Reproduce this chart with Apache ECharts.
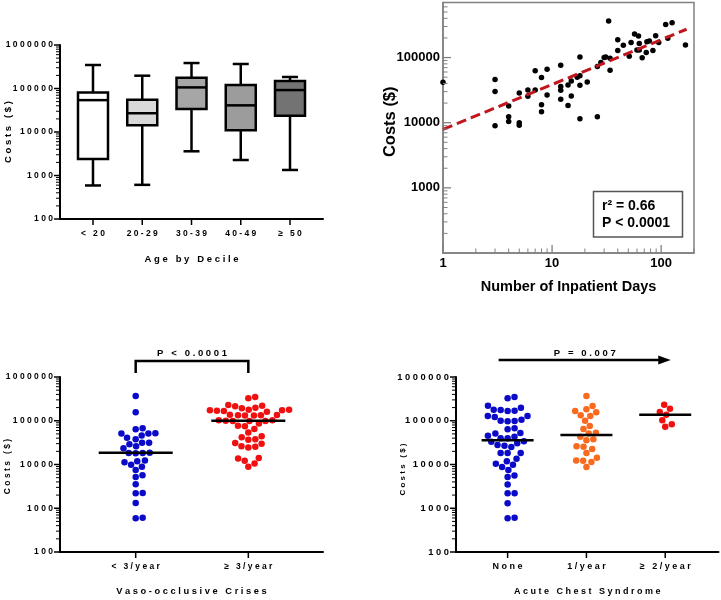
<!DOCTYPE html>
<html>
<head>
<meta charset="utf-8">
<script src="https://cdn.jsdelivr.net/npm/echarts@6/dist/echarts.min.js"></script>
<style>
  html, body { margin: 0; padding: 0; background: #fff; }
  #chart { width: 721px; height: 600px; }
</style>
</head>
<body>
<div id="chart"></div>
<script>
// top left: costs by age decile (box and whiskers)
const ageGroups = ['< 20', '20-29', '30-39', '40-49', '≥ 50'];
const boxMin = [590, 610, 3600, 2270, 1340];
const boxQ1 = [2400, 14300, 34000, 11000, 23700];
const boxMedian = [54000, 27000, 106000, 41000, 92000];
const boxQ3 = [81000, 55000, 177000, 120000, 148000];
const boxMax = [347000, 197000, 385000, 366000, 184000];
const costTicks = [100, 1000, 10000, 100000, 1000000];

// top right: costs vs number of inpatient days
const inpatientDays = [1, 3, 3, 3, 4, 4, 4, 5, 5, 5, 6, 6, 7, 7, 8, 8, 8, 9, 9, 12, 12, 12, 12, 14, 14, 15, 15,
  17, 18, 18, 18, 18, 21, 26, 26, 28, 30, 31, 33, 34, 34, 40, 40, 45, 51, 53, 57, 60, 62, 63, 67, 63,
  73, 74, 78, 84, 89, 95, 110, 115, 126, 167];
const inpatientCosts = [41600, 46000, 30000, 9000, 18000, 12300, 10400, 10000, 9100, 28600, 31800, 25500,
  63000, 31800, 49500, 18800, 14700, 66000, 26700, 76000, 36000, 31400, 23000, 38000, 18400, 43600, 25800,
  50000, 102000, 37500, 11500, 52500, 42000, 12300, 73000, 84000, 100000, 102000, 365000, 98000, 64000,
  188000, 128000, 154000, 105000, 171000, 229000, 131000, 214000, 165000, 99000, 131000,
  120000, 175000, 180000, 128000, 216000, 171000, 322000, 197000, 341000, 156000];
const fitDays = [1, 171];
const fitCosts = [7900, 272000];
const dayTicks = [1, 10, 100];
const scatterCostTicks = [1000, 10000, 100000];

// bottom left: vaso-occlusive crises
const vocGroups = ['< 3/year', '≥ 3/year'];
const vocLow = [368000, 156000, 64000, 67000, 51000, 46000, 51000, 52000, 38000, 41000, 31500, 29000, 31500,
  23400, 26000, 18300, 18000, 18300, 18600, 11800, 12400, 9900, 11200, 8900, 7500, 5650, 5180, 3520, 2190,
  2230, 1320, 590, 610];
const vocHigh = [349000, 325000, 221000, 199000, 179000, 173000, 167000, 161000, 170000, 173000, 179000,
  192000, 214000, 229000, 138000, 133000, 131000, 131000, 133000, 135000, 98600, 102000, 98600, 100000,
  102000, 98600, 77000, 74500, 86000, 65000, 54000, 44000, 41800, 37600, 37000, 31000, 26300, 24500, 25600,
  30000, 14100, 13800, 12200, 10500, 8900];
const vocMedians = [18600, 100000];

// bottom right: acute chest syndrome
const acsGroups = ['None', '1/year', '≥ 2/year'];
const acsNone = [325000, 349000, 221000, 199000, 179000, 170000, 167000, 176000, 128000, 122000, 128000,
  100000, 97000, 98700, 106000, 67000, 64000, 51000, 52500, 43000, 45600, 40000, 40000, 34000, 30500, 33000,
  27000, 25000, 28000, 18300, 18300, 18300, 13600, 11800, 10400, 9900, 8800, 7500, 5600, 5200, 3500, 2200,
  2200, 1300, 590, 610];
const acsOne = [368000, 182000, 217000, 156000, 167000, 128000, 133000, 100000, 76000, 65000, 51000, 53000,
  43000, 37600, 36000, 26000, 25600, 22600, 18300, 14300, 12400, 12200, 11400, 8800];
const acsTwo = [233000, 189000, 158000, 138000, 102000, 83000, 73000];
const acsMedians = [35600, 47000, 138000];

const FONT = 'Liberation Sans, Arial, Helvetica, sans-serif';
const boxFills = ['#ffffff', '#d9d9d9', '#a6a6a6', '#9c9c9c', '#737373'];
const BLUE = '#0a0ac8', RED = '#f01010', ORANGE = '#fa6a1e';
const gray = '#808080';

// x extents of the group axes (the category centres sit at 1, 2, 3 ...)
const ageRange = [0.33, 5.67], vocRange = [0.328, 2.663], acsRange = [0.345, 3.676];
const dayRange = [1, 200], costRange = [100, 1000000], scatterCostRange = [100, 700000];

const spaced = s => String(s).split('').join(' ');
const bold = (size, extra) => Object.assign({ fontFamily: FONT, fontWeight: 'bold', fontSize: size, color: '#000' }, extra);
const plain = v => String(Math.round(v));
const catTicks = n => Array.from({ length: n }, (_, i) => i + 1);

function minorLogTicks(lo, hi) {
  const out = [];
  for (let d = lo; d < hi; d *= 10) {
    for (let m = 2; m <= 9; m++) if (m * d <= hi) out.push(m * d);
  }
  return out;
}

function costAxis(grid, labelSize) {
  return {
    type: 'log', logBase: 10, gridIndex: grid, position: 'left', min: costRange[0], max: costRange[1],
    axisLine: { show: true, onZero: false, lineStyle: { color: '#000', width: 2 } },
    axisTick: { show: false },
    axisLabel: Object.assign({ customValues: costTicks, margin: 7, formatter: v => spaced(Math.round(v)) }, bold(labelSize)),
    splitLine: { show: false }
  };
}

function groupAxis(grid, labels, range, labelSize, title, titleSize) {
  return {
    type: 'value', gridIndex: grid, position: 'bottom', min: range[0], max: range[1],
    name: spaced(title), nameLocation: 'middle', nameGap: 35, nameTextStyle: bold(titleSize),
    axisLine: { show: true, onZero: false, lineStyle: { color: '#000', width: 2 } },
    axisTick: { show: false },
    axisLabel: Object.assign({ customValues: catTicks(labels.length), margin: 10,
      formatter: v => spaced(labels[Math.round(v) - 1]) }, bold(labelSize)),
    splitLine: { show: false }
  };
}

function medianSeries(xi, yi, medians, half) {
  return {
    type: 'custom', xAxisIndex: xi, yAxisIndex: yi, z: 5, silent: true,
    data: medians.map((m, i) => [i + 1, m]),
    renderItem: (params, api) => {
      const p = api.coord([api.value(0), api.value(1)]);
      return { type: 'line', shape: { x1: p[0] - half, y1: p[1], x2: p[0] + half, y2: p[1] },
        style: { stroke: '#000', lineWidth: 2.5 } };
    }
  };
}

function dots(xi, yi, color) {
  return { type: 'scatter', xAxisIndex: xi, yAxisIndex: yi, symbolSize: 6.5, z: 3,
    itemStyle: { color: color, opacity: 1 }, data: [] };
}

// rotated y axis title, placed left of a grid
function yTitle(text, x, y, size) {
  return { type: 'text', x: x, y: y, rotation: Math.PI / 2, silent: true,
    style: { text: text, font: 'bold ' + size + 'px ' + FONT, fill: '#000', align: 'center', verticalAlign: 'middle' } };
}

const chart = echarts.init(document.getElementById('chart'), null, { renderer: 'canvas' });

const fixedGrid = g => Object.assign({ containLabel: false, outerBoundsMode: 'none' }, g);
const grids = [
  fixedGrid({ left: 60, top: 45, width: 263, height: 174 }),
  fixedGrid({ left: 443, top: 2.5, width: 251, height: 250.5, show: true, borderColor: gray, borderWidth: 1.5 }),
  fixedGrid({ left: 60, top: 377, width: 263, height: 175 }),
  fixedGrid({ left: 456, top: 377, width: 262.5, height: 175 })
];
const midY = g => g.top + g.height / 2;

const option = {
  backgroundColor: '#fff',
  animation: false,
  grid: grids,
  xAxis: [
    groupAxis(0, ageGroups, ageRange, 8.5, 'Age by Decile', 9.5),
    {
      type: 'log', logBase: 10, gridIndex: 1, position: 'bottom', min: dayRange[0], max: dayRange[1],
      name: 'Number of Inpatient Days', nameLocation: 'middle', nameGap: 26, nameTextStyle: bold(14.5),
      axisLine: { show: true, onZero: false, lineStyle: { color: gray, width: 1.5 } },
      axisTick: { show: false },
      axisLabel: Object.assign({ customValues: dayTicks, margin: 4, formatter: plain }, bold(13)),
      splitLine: { show: false }
    },
    groupAxis(2, vocGroups, vocRange, 8.5, 'Vaso-occlusive Crises', 9.3),
    groupAxis(3, acsGroups, acsRange, 9, 'Acute Chest Syndrome', 9)
  ],
  yAxis: [
    costAxis(0, 8.5),
    {
      type: 'log', logBase: 10, gridIndex: 1, position: 'left', min: scatterCostRange[0], max: scatterCostRange[1],
      axisLine: { show: true, onZero: false, lineStyle: { color: gray, width: 1.5 } },
      axisTick: { show: false },
      axisLabel: Object.assign({ customValues: scatterCostTicks, margin: 3, formatter: plain }, bold(13)),
      splitLine: { show: false }
    },
    costAxis(2, 8.5),
    costAxis(3, 9.3)
  ],
  series: [
    {
      type: 'custom', xAxisIndex: 0, yAxisIndex: 0, silent: true,
      data: ageGroups.map((g, i) => [i + 1, boxMin[i], boxQ1[i], boxMedian[i], boxQ3[i], boxMax[i]]),
      encode: { x: 0, y: [1, 2, 3, 4, 5] },
      renderItem: (params, api) => {
        const x = api.value(0);
        const c = k => api.coord([x, api.value(k)]);
        const pMin = c(1), pQ1 = c(2), pMed = c(3), pQ3 = c(4), pMax = c(5);
        const cx = pMin[0], half = 15, cap = 8;
        const st = { stroke: '#000', lineWidth: 2.5 };
        const ln = (x1, y1, x2, y2) => ({ type: 'line', shape: { x1, y1, x2, y2 }, style: st });
        return { type: 'group', children: [
          ln(cx, pMin[1], cx, pQ1[1]),
          ln(cx, pQ3[1], cx, pMax[1]),
          ln(cx - cap, pMin[1], cx + cap, pMin[1]),
          ln(cx - cap, pMax[1], cx + cap, pMax[1]),
          { type: 'rect', shape: { x: cx - half, y: pQ3[1], width: half * 2, height: pQ1[1] - pQ3[1] },
            style: { fill: boxFills[params.dataIndex], stroke: '#000', lineWidth: 2.5 } },
          ln(cx - half, pMed[1], cx + half, pMed[1])
        ] };
      }
    },
    {
      type: 'scatter', xAxisIndex: 1, yAxisIndex: 1, symbolSize: 5.5, z: 3,
      itemStyle: { color: '#000', opacity: 1 },
      data: inpatientDays.map((d, i) => [d, inpatientCosts[i]])
    },
    {
      type: 'line', xAxisIndex: 1, yAxisIndex: 1, showSymbol: false, z: 4, silent: true,
      lineStyle: { color: '#c0161c', width: 3, type: [10, 5] },
      data: fitDays.map((d, i) => [d, fitCosts[i]])
    },
    dots(2, 2, BLUE),
    dots(2, 2, RED),
    medianSeries(2, 2, vocMedians, 37),
    dots(3, 3, BLUE),
    dots(3, 3, ORANGE),
    dots(3, 3, RED),
    medianSeries(3, 3, acsMedians, 26)
  ],
  graphic: [
    { type: 'rect', shape: { x: 593.5, y: 191.5, width: 89, height: 45.5 },
      style: { fill: '#fff', stroke: '#555', lineWidth: 1.5 }, z: 10 },
    { type: 'text', x: 602, y: 206, z: 11,
      style: { text: 'r² = 0.66', font: 'bold 14px ' + FONT, fill: '#000', verticalAlign: 'middle' } },
    { type: 'text', x: 602, y: 223, z: 11,
      style: { text: 'P < 0.0001', font: 'bold 14px ' + FONT, fill: '#000', verticalAlign: 'middle' } },
    yTitle(spaced('Costs ($)'), grids[0].left - 52, midY(grids[0]), 9.5),
    yTitle('Costs ($)', grids[1].left - 52.5, midY(grids[1]) - 6, 16.5),
    yTitle(spaced('Costs ($)'), grids[2].left - 52, midY(grids[2]) + 2, 8.5),
    yTitle(spaced('Costs ($)'), grids[3].left - 53, midY(grids[3]) + 5, 8)
  ]
};
chart.setOption(option);

const boxF = { xAxisIndex: 0, yAxisIndex: 0 }, dayF = { xAxisIndex: 1, yAxisIndex: 1 };
const vocF = { xAxisIndex: 2, yAxisIndex: 2 }, acsF = { xAxisIndex: 3, yAxisIndex: 3 };

// tick marks placed through each grid's own scales; negative length = left / up
function tickLines(finder, points, sideways, length, color, width) {
  return points.map(pt => {
    const p = chart.convertToPixel(finder, pt);
    const shape = sideways
      ? { x1: p[0] + length, y1: p[1], x2: p[0], y2: p[1] }
      : { x1: p[0], y1: p[1], x2: p[0], y2: p[1] + length };
    return { type: 'line', shape: shape, silent: true, z: 12, style: { stroke: color, lineWidth: width } };
  });
}
const yTicks = (f, x0, values, len, color, w) => tickLines(f, values.map(v => [x0, v]), true, len, color, w);
const xTicks = (f, y0, values, len, color, w) => tickLines(f, values.map(v => [v, y0]), false, len, color, w);

function panelTicks(f, range, nCats) {
  return [].concat(
    yTicks(f, range[0], costTicks, -6, '#000', 1.5),
    yTicks(f, range[0], minorLogTicks(costRange[0], costRange[1]), -4, '#000', 1),
    xTicks(f, costRange[0], catTicks(nCats), 6, '#000', 1.5)
  );
}

// lay out the dot plots as a bee swarm around each category
function swarm(values, cat, finder, diameter) {
  const cx = chart.convertToPixel(finder, [cat, values[0]])[0];
  const pts = values.map(v => ({ v, py: chart.convertToPixel(finder, [cat, v])[1], dx: 0 }));
  const placed = [];
  pts.slice().sort((a, b) => b.py - a.py).forEach(p => {
    const near = placed.filter(q => Math.abs(q.py - p.py) < diameter);
    const cands = [0];
    near.forEach(q => {
      const w = Math.sqrt(diameter * diameter - (q.py - p.py) * (q.py - p.py));
      cands.push(q.dx + w, q.dx - w);
    });
    cands.sort((a, b) => Math.abs(a) - Math.abs(b));
    p.dx = cands.find(c => near.every(q => Math.hypot(q.dx - c, q.py - p.py) >= diameter - 1e-6));
    placed.push(p);
  });
  return pts.map(p => [chart.convertFromPixel(finder, [cx + p.dx, p.py])[0], p.v]);
}

const D = 7;
const px = (finder, x) => chart.convertToPixel(finder, [x, 1000])[0];
const b1 = px(vocF, 1), b2 = px(vocF, 2);
const a1 = px(acsF, 1) - 9, a3 = px(acsF, 3) + 5.5;
const bracketY = grids[2].top - 16, arrowY = grids[3].top - 17;

chart.setOption({
  series: [{}, {}, {},
    { data: swarm(vocLow, 1, vocF, D) },
    { data: swarm(vocHigh, 2, vocF, D) },
    {},
    { data: swarm(acsNone, 1, acsF, D) },
    { data: swarm(acsOne, 2, acsF, D) },
    { data: swarm(acsTwo, 3, acsF, D) }
  ],
  graphic: option.graphic.concat(
    panelTicks(boxF, ageRange, ageGroups.length),
    panelTicks(vocF, vocRange, vocGroups.length),
    panelTicks(acsF, acsRange, acsGroups.length),
    yTicks(dayF, dayRange[0], scatterCostTicks, 8, gray, 1.3),
    yTicks(dayF, dayRange[0], minorLogTicks(scatterCostRange[0], scatterCostRange[1]), 4.5, gray, 1),
    xTicks(dayF, scatterCostRange[0], dayTicks, -8, gray, 1.3),
    xTicks(dayF, scatterCostRange[0], minorLogTicks(dayRange[0], dayRange[1]), -4.5, gray, 1),
    [
      { type: 'polyline', shape: { points: [[b1, bracketY + 12], [b1, bracketY], [b2, bracketY], [b2, bracketY + 12]] },
        style: { stroke: '#000', lineWidth: 2.5, fill: null } },
      { type: 'text', x: (b1 + b2) / 2, y: bracketY - 8,
        style: { text: spaced('P < 0.0001'), font: 'bold 9.5px ' + FONT, fill: '#000', align: 'center', verticalAlign: 'middle' } },
      { type: 'line', shape: { x1: a1, y1: arrowY, x2: a3 - 10, y2: arrowY }, style: { stroke: '#000', lineWidth: 2.5 } },
      { type: 'polygon', shape: { points: [[a3 - 12.5, arrowY - 4.5], [a3, arrowY], [a3 - 12.5, arrowY + 4.5]] },
        style: { fill: '#000' } },
      { type: 'text', x: (a1 + a3) / 2, y: arrowY - 7,
        style: { text: spaced('P = 0.007'), font: 'bold 9.5px ' + FONT, fill: '#000', align: 'center', verticalAlign: 'middle' } }
    ]
  )
});
</script>
</body>
</html>
